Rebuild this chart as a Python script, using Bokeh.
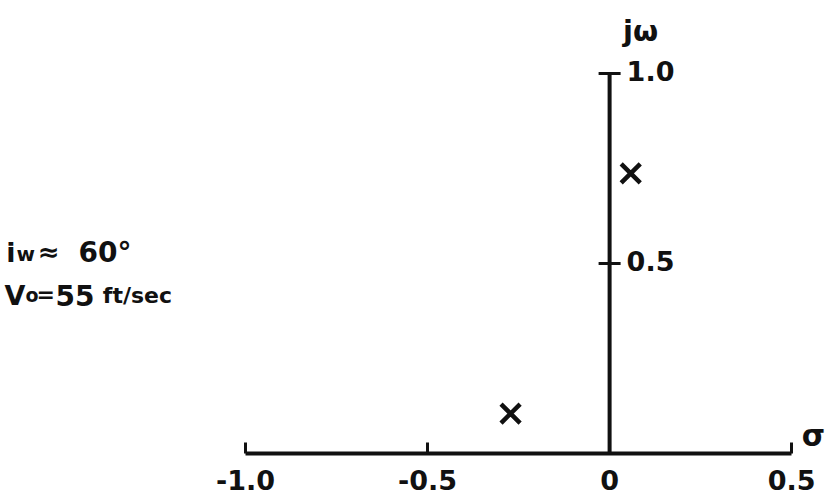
from bokeh.plotting import figure
from bokeh.models import LinearAxis, FixedTicker, Range1d
from bokeh.core.properties import value
from bokeh.embed import file_html
from bokeh.resources import INLINE

# ---- data ----
sigma_ticks = [-1.0, -0.5, 0.0, 0.5]
sigma_tick_labels = ["-1.0", "-0.5", "0", "0.5"]
omega_ticks = [0.5, 1.0]
omega_tick_labels = ["0.5", "1.0"]
pole_sigma = [0.058, -0.272]
pole_omega = [0.737, 0.105]

FONT = value("DejaVu Sans")
INK = "#111111"

p = figure(width=825, height=500,
           x_range=Range1d(-1.673, 0.593), y_range=Range1d(0, 1.192),
           output_backend="svg", toolbar_location=None,
           x_axis_location=None, y_axis_location=None,
           min_border_left=0, min_border_right=0, min_border_top=0,
           min_border_bottom=47)
p.outline_line_color = None
p.grid.visible = False
p.background_fill_color = "white"
p.border_fill_color = "white"

# horizontal (sigma) axis
xaxis = LinearAxis(ticker=FixedTicker(ticks=sigma_ticks),
                   bounds=(min(sigma_ticks), max(sigma_ticks)),
                   major_label_overrides={t: l for t, l in zip(sigma_ticks, sigma_tick_labels)})
xaxis.axis_line_width = 4
xaxis.axis_line_color = INK
xaxis.major_tick_in = 11
xaxis.major_tick_out = 0
xaxis.major_tick_line_width = 3
xaxis.major_tick_line_color = INK
xaxis.minor_tick_line_color = None
xaxis.major_label_standoff = 16
xaxis.major_label_text_font = "DejaVu Sans"
xaxis.major_label_text_font_style = "bold"
xaxis.major_label_text_font_size = "27px"
xaxis.major_label_text_color = INK
p.add_layout(xaxis, "below")

# vertical (j omega) axis drawn at sigma = 0
p.segment(x0=[0], y0=[0], x1=[0], y1=[max(omega_ticks)], line_width=4, line_color=INK)
p.scatter(x=[0] * len(omega_ticks), y=omega_ticks, marker="dash", size=22,
          line_width=3, line_color=INK)
p.text(x=[0] * len(omega_ticks), y=omega_ticks, text=omega_tick_labels, x_offset=17,
       y_offset=-2, text_align="left", text_baseline="middle", text_font=FONT,
       text_font_style="bold", text_font_size="27px", text_color=INK)

# axis names
p.text(x=[0.085], y=[1.113], text=["jω"], text_align="center", text_baseline="middle",
       text_font=FONT, text_font_style="bold", text_font_size="29px", text_color=INK)
p.text(x=[0.56], y=[0.047], text=["σ"], text_align="center", text_baseline="middle",
       text_font=FONT, text_font_style="bold", text_font_size="30px", text_color=INK)

# poles
p.scatter(x=pole_sigma, y=pole_omega, marker="x", size=27, line_width=4.5, line_color=INK)

# condition annotation
def t(x, y, s, size):
    p.text(x=[x], y=[y], text=[s], text_align="left", text_baseline="alphabetic",
           text_font=FONT, text_font_style="bold", text_font_size=size, text_color=INK)

t(-1.657, 0.529, "i", "27px")
t(-1.629, 0.526, "w", "20px")
t(-1.571, 0.529, "≈", "26px")
t(-1.459, 0.529, "60°", "28px")
t(-1.662, 0.416, "V", "27px")
t(-1.604, 0.418, "o", "19px")
t(-1.574, 0.418, "=", "22px")
t(-1.522, 0.416, "55", "28px")
t(-1.392, 0.416, "ft/sec", "22px")

open("out.html", "w").write(file_html(p, INLINE))
